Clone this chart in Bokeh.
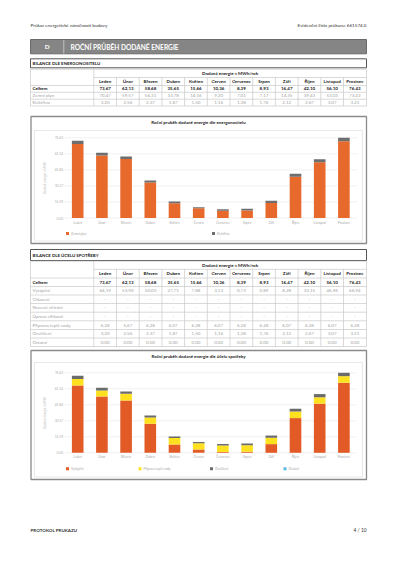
import numpy as np
from bokeh.plotting import figure
from bokeh.models import Range1d, ColumnDataSource
from bokeh.embed import file_html
from bokeh.resources import INLINE
from bokeh.core.properties import value

# ---------------- data ----------------
months = ["Leden", "Únor", "Březen", "Duben", "Květen", "Červen",
          "Červenec", "Srpen", "Září", "Říjen", "Listopad", "Prosinec"]
celkem = [73.67, 62.13, 58.68, 35.65, 15.66, 10.36, 8.39, 8.93, 16.47, 42.10, 56.10, 76.43]
zemni_plyn = [70.47, 59.57, 56.31, 33.78, 14.16, 9.20, 7.01, 7.17, 14.35, 39.43, 53.03, 73.22]
elektrina = [3.20, 2.56, 2.37, 1.87, 1.50, 1.16, 1.38, 1.76, 2.12, 2.67, 3.07, 3.21]
vytapeni = [64.19, 53.90, 50.03, 27.71, 7.88, 3.13, 0.73, 0.89, 8.28, 33.15, 46.96, 66.94]
teple_voda = [6.28, 5.67, 6.28, 6.07, 6.28, 6.07, 6.28, 6.28, 6.07, 6.28, 6.07, 6.28]
osvetleni = [3.20, 2.56, 2.37, 1.87, 1.50, 1.16, 1.38, 1.76, 2.12, 2.67, 3.07, 3.21]
ostatni = [0.00, 0.00, 0.00, 0.00, 0.00, 0.00, 0.00, 0.00, 0.00, 0.00, 0.00, 0.00]
y_ticks = [0.00, 15.29, 30.57, 45.86, 61.14, 76.43]

FONT = "Lato"
W, H = 400, 565
DARK = "#222222"
GRAY = "#a4a4a4"

p = figure(width=W, height=H, x_range=Range1d(0, W), y_range=Range1d(H, 0),
           min_border=0, toolbar_location=None, output_backend="svg",
           x_axis_type=None, y_axis_type=None)
p.grid.visible = False
p.outline_line_color = None
p.background_fill_color = "white"
p.border_fill_color = "white"

# chart geometry -> extra ranges (library scales map data values)
X0, DX = 77.2, 24.2
CH1_Y0, CH1_H = 217.5, 80.2
CH2_Y0, CH2_H = 452.3, 80.0
ymax = y_ticks[-1]


def yr(y0, ph):
    k = ph / ymax
    return Range1d(start=(y0 - H) / k, end=y0 / k)


p.extra_y_ranges = {"c1y": yr(CH1_Y0, CH1_H), "c2y": yr(CH2_Y0, CH2_H)}
p.extra_x_ranges = {"mx": Range1d(start=-X0 / DX, end=(W - X0) / DX)}


def fmt(v):
    if isinstance(v, str):
        return v
    return f"{v:.2f}".replace(".", ",")


def texts(xs, ys, ss, size, color=DARK, bold=False, align="left", angle=0.0, **kw):
    src = ColumnDataSource(dict(x=list(xs), y=list(ys), t=list(ss)))
    p.text(x="x", y="y", text="t", source=src, text_font=value(FONT),
           text_font_size=f"{size}px", text_color=color,
           text_font_style="bold" if bold else "normal",
           text_align=align, text_baseline="middle", angle=angle, **kw)


def box(l, r, t, b, line="#888888", lw=1.0, fill=None):
    p.quad(left=[l], right=[r], top=[t], bottom=[b], fill_color=fill,
           line_color=line, line_width=lw)


# ---------------- page header ----------------
texts([30], [24], ["Průkaz energetické náročnosti budovy"], 4.6, "#333333")
texts([366], [24], ["Evidenční číslo průkazu: 661574.0"], 4.6, "#333333", align="right")

box(30, 366, 39, 53.3, line="#6a6a6a", lw=1, fill="#858585")
p.segment(x0=[63.3], x1=[63.3], y0=[39.5], y1=[53], line_color="#c4c4c4", line_width=1)
texts([46.7], [46.3], ["D"], 6.4, "white", bold=True, align="center")
texts([70], [46.3], ["ROČNÍ PRŮBĚH DODANÉ ENERGIE"], 6.6, "white", bold=True)

# ---------------- tables ----------------
col_b = np.linspace(93.3, 365.7, 13)
col_c = (col_b[:-1] + col_b[1:]) / 2


def table(title, box_t, box_b, rows_b, row_labels, row_values):
    box(30, 366, box_t, box_b, line="#555555", lw=1)
    texts([32], [(box_t + box_b) / 2 + 0.2], [title], 4.4, DARK, bold=True)
    top, bot = rows_b[0], rows_b[-1]
    lc = "#c9c9c9"
    box(30, 366, top, bot, line=lc, lw=0.7)
    # horizontal lines
    p.segment(x0=[93.3], x1=[366], y0=[rows_b[1]], y1=[rows_b[1]], line_color=lc, line_width=0.7)
    hy = rows_b[2:-1]
    p.segment(x0=[30] * len(hy), x1=[366] * len(hy), y0=hy, y1=hy, line_color=lc, line_width=0.7)
    # vertical lines
    p.segment(x0=[93.3], x1=[93.3], y0=[top], y1=[bot], line_color=lc, line_width=0.7)
    vx = list(col_b[1:-1])
    p.segment(x0=vx, x1=vx, y0=[rows_b[1]] * len(vx), y1=[bot] * len(vx), line_color=lc, line_width=0.7)
    cy = [(a + b) / 2 for a, b in zip(rows_b[:-1], rows_b[1:])]
    texts([(93.3 + 366) / 2], [cy[0]], ["Dodaná energie v MWh/rok"], 4.5, DARK, bold=True, align="center")
    texts(col_c, [cy[1]] * 12, months, 4.5, DARK, bold=True, align="center")
    # Celkem row
    texts([32], [cy[2]], [row_labels[0]], 4.5, DARK, bold=True)
    texts(col_c, [cy[2]] * 12, [fmt(v) for v in row_values[0]], 4.5, DARK, bold=True, align="center")
    for lab, vals, y in zip(row_labels[1:], row_values[1:], cy[3:]):
        texts([32], [y], [lab], 4.5, GRAY)
        texts(col_c, [y] * 12, [fmt(v) for v in vals], 4.5, GRAY, align="center")


dash = ["-"] * 12
table("BILANCE DLE ENERGONOSITELŮ", 58.3, 67.3,
      [68.8, 77, 85, 91.8, 98.7, 105.5],
      ["Celkem", "Zemní plyn", "Elektřina"],
      [celkem, zemni_plyn, elektrina])

table("BILANCE DLE ÚČELŮ SPOTŘEBY", 249, 260,
      [260.7, 268.8, 277.5, 286, 294.5, 303, 311.7, 320.3, 329, 337.5, 346],
      ["Celkem", "Vytápění", "Chlazení", "Nucené větrání", "Úprava vlhkosti",
       "Příprava teplé vody", "Osvětlení", "Ostatní"],
      [celkem, vytapeni, dash, dash, dash, teple_voda, osvetleni, ostatni])

# ---------------- charts ----------------
idx = list(range(12))


def chart(title, ot, ob, it, ib, y0, yname, keys, vals, colors, labels, leg_x, leg_y, grid_r):
    box(30.5, 366, ot, ob, line="#8a8a8a", lw=1.3)
    box(34, 362, it, ib, line="#e2e2e2", lw=0.8)
    texts([198], [ot + 5.6], [title], 4.4, DARK, bold=True, align="center")
    # grid
    p.segment(x0=[64] * len(y_ticks), x1=[grid_r] * len(y_ticks), y0=y_ticks, y1=y_ticks,
              line_color="#ebebeb", line_width=0.7, y_range_name=yname)
    texts([62.8] * len(y_ticks), y_ticks, [f"{t:.2f}" for t in y_ticks], 3.4, "#b0b0b0",
          align="right", y_range_name=yname)
    texts([44], [y0 - 40], ["Dodaná energie v MWh"], 3.1, "#b8b8b8", align="center", angle=np.pi / 2)
    data = dict(idx=idx)
    for k, v in zip(keys, vals):
        data[k] = v
    src = ColumnDataSource(data)
    p.vbar_stack(keys, x="idx", width=0.48, color=colors, line_color=None, source=src,
                 x_range_name="mx", y_range_name=yname)
    texts(idx, [y0 + 4.6] * 12, months, 3.3, "#a8a8a8", align="center", x_range_name="mx")
    for lx, c, lab in zip(leg_x, colors, labels):
        p.rect(x=[lx], y=[leg_y], width=3, height=3, fill_color=c, line_color=None)
        texts([lx + 3.5], [leg_y], [lab], 3.2, "#a8a8a8")


chart("Roční průběh dodané energie dle energonositelů", 116, 243, 130, 240.5,
      CH1_Y0, "c1y", ["zp", "el"], [zemni_plyn, elektrina],
      ["#e8692c", "#6e6e6e"], ["Zemní plyn", "Elektřina"], [67, 213], 233, 357)

chart("Roční průběh dodané energie dle účelů spotřeby", 350, 479, 362, 476.5,
      CH2_Y0, "c2y", ["vy", "tv", "os", "ot"], [vytapeni, teple_voda, osvetleni, ostatni],
      ["#e25a26", "#ffe11f", "#6b6b6b", "#5bb7e5"],
      ["Vytápění", "Příprava teplé vody", "Osvětlení", "Ostatní"],
      [67, 139.5, 211, 284.5], 468.3, 355)

# ---------------- footer ----------------
texts([30], [530], ["PROTOKOL PRŮKAZU"], 4.5, "#333333", bold=True)
texts([366], [529.5], ["4 / 10"], 4.8, "#333333", align="right")

open("out.html", "w").write(file_html(p, INLINE))
